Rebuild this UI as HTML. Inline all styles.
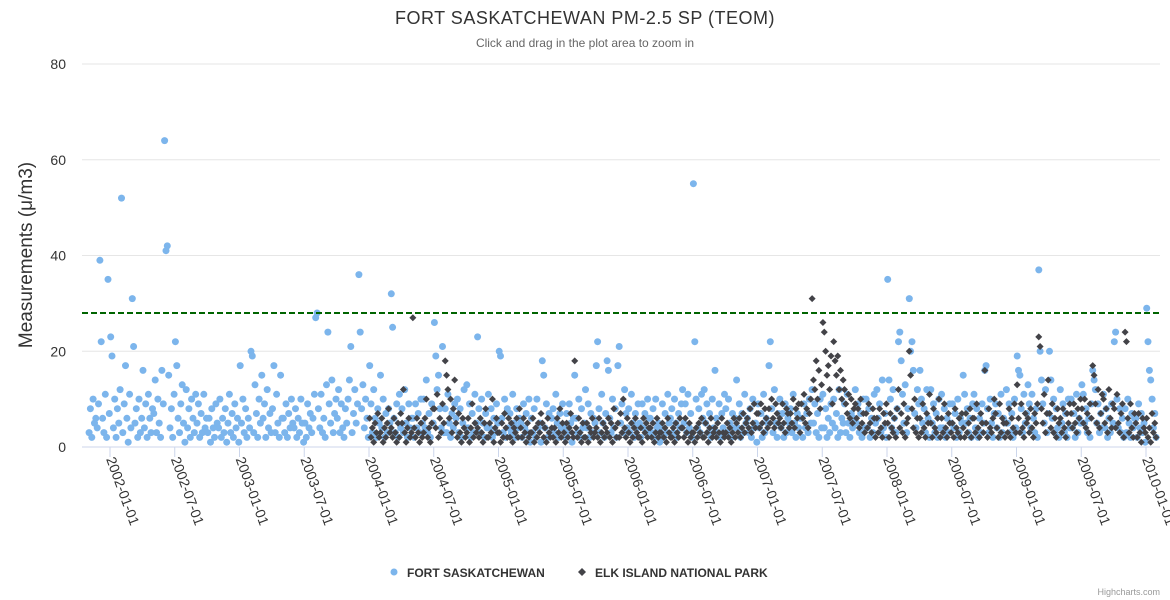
<!DOCTYPE html>
<html><head><meta charset="utf-8"><style>
body{margin:0;background:#fff;font-family:"Liberation Sans","DejaVu Sans",sans-serif}
</style></head><body>
<svg id="chart" width="1170" height="600" xmlns="http://www.w3.org/2000/svg" style="display:block">
<text x="585" y="24" text-anchor="middle" font-size="18" fill="#333" letter-spacing="0.5">FORT SASKATCHEWAN PM-2.5 SP (TEOM)</text>
<text x="585" y="47" text-anchor="middle" font-size="12" fill="#666">Click and drag in the plot area to zoom in</text>
<text transform="translate(32,255) rotate(-90)" text-anchor="middle" font-size="19" fill="#333">Measurements (μ/m3)</text>
<g id="grid"></g><g id="xaxis"></g><g id="fs"></g><g id="ei"></g>
<line id="thr" x1="82" x2="1160" stroke="#006400" stroke-width="2" stroke-dasharray="6,3"/>
<g>
<g><circle cx="394" cy="572" r="3.5" fill="#7cb5ec"/><text x="407" y="577" font-size="12" font-weight="bold" fill="#333">FORT SASKATCHEWAN</text></g>
<g><path d="M582 568L586 572L582 576L578 572Z" fill="#434348"/><text x="595" y="577" font-size="12" font-weight="bold" fill="#333">ELK ISLAND NATIONAL PARK</text></g>
</g>
<text x="1160" y="595" text-anchor="end" font-size="9" fill="#999">Highcharts.com</text>
</svg>
<script>
const yTicks=[0,20,40,60,80];
const xTickLabels=["2002-01-01","2002-07-01","2003-01-01","2003-07-01","2004-01-01","2004-07-01","2005-01-01","2005-07-01","2006-01-01","2006-07-01","2007-01-01","2007-07-01","2008-01-01","2008-07-01","2009-01-01","2009-07-01","2010-01-01"];
const threshold=28;
const fsStartYear=2001, fsStartMonth=10;
const fsValues=[
[3,8,2,10,5,6,4,9],[39,22,6,3,11,2,35,7],[23,19,4,10,2,8,5,12],[52,3,9,17,6,1,11,4],[31,21,5,8,2,10,3,6],[16,4,9,2,11,6,3,8],[7,14,3,10,5,2,16,9],[64,41,42,15,4,8,2,11],[22,17,6,3,9,13,5,1],[12,4,8,2,10,6,3,11],[5,9,2,7,3,11,4,6],[3,6,1,8,4,2,9,5],[4,10,2,6,3,8,1,5],[11,3,7,2,9,4,6,1],[17,5,10,3,8,2,6,4],
[20,19,3,13,7,2,10,5],[15,6,9,2,12,4,7,3],[8,17,3,11,5,2,15,6],[6,3,9,2,7,4,10,5],[4,8,2,6,3,10,5,1],[5,2,9,4,7,3,6,11],[27,28,8,4,11,3,6,2],[13,24,9,5,14,3,7,10],[6,12,3,9,4,2,8,5],[10,14,21,3,7,12,5,9],[36,24,8,13,4,10,6,2],[17,9,3,12,6,2,8,5],
[15,4,10,2,7,3,8,5],[32,25,6,3,9,2,11,4],[8,3,12,5,2,9,4,6],[6,2,9,4,7,3,10,5],[10,4,14,3,7,2,9,5],[26,19,12,15,8,4,21,3],[8,3,11,5,2,7,4,9],[6,10,3,8,2,5,12,4],[13,4,9,2,7,3,11,5],[23,8,3,10,5,2,7,4],[11,4,8,2,6,3,9,5],[20,19,6,3,10,2,8,4],
[7,3,11,5,2,8,4,6],[5,2,9,4,7,3,10,1],[6,3,8,2,10,4,5,1],[18,15,4,9,2,7,3,6],[8,3,11,5,2,7,4,9],[4,2,7,3,9,5,1,6],[15,6,3,10,2,8,4,5],[12,4,9,2,7,3,6,5],[17,22,8,3,11,5,2,7],[18,16,6,3,10,4,8,2],[17,21,5,9,3,12,7,4],[8,3,11,5,2,7,4,9],
[5,2,9,4,7,3,10,6],[6,3,8,2,10,4,5,1],[4,9,2,7,3,11,5,6],[8,3,10,5,2,7,4,9],[12,5,9,3,11,4,7,2],[55,22,10,4,8,3,11,6],[12,5,9,3,7,2,10,4],[16,6,3,9,2,7,4,11],[8,3,10,5,2,7,4,6],[14,4,9,2,7,3,11,5],[6,3,8,2,10,4,5,1],[9,4,7,2,11,3,6,5],
[17,22,8,3,12,5,2,7],[10,4,7,2,9,3,6,5],[8,3,11,5,2,7,4,6],[6,2,9,4,7,3,10,5],[12,5,9,3,7,2,10,4],[11,4,8,2,6,3,9,5],[10,4,7,2,12,3,6,5],[9,3,11,5,2,7,4,6],[12,5,9,3,7,2,10,4],[10,4,8,2,6,3,11,5],[12,6,9,3,14,4,7,2],[35,14,10,4,12,6,3,8],
[22,24,18,11,5,13,3,8],[31,20,22,16,7,4,12,9],[16,10,5,8,3,12,6,2],[12,5,9,3,7,2,10,4],[11,4,8,2,6,3,9,5],[9,4,7,2,10,3,6,5],[15,11,5,8,3,6,2,9],[11,4,8,2,6,3,9,5],[16,17,8,3,10,5,2,7],[9,4,7,2,11,3,6,5],[12,5,9,3,7,2,10,4],[19,16,15,8,3,11,5,7],
[13,9,4,11,6,3,8,2],[37,20,14,9,5,12,3,7],[20,14,6,10,3,8,4,2],[12,5,9,3,7,2,10,4],[10,4,7,2,11,3,6,5],[13,11,5,8,3,6,2,9],[16,14,12,5,9,3,7,4],[11,4,8,2,6,3,9,5],[22,24,10,4,8,3,6,2],[8,3,10,5,2,7,4,6],[6,2,9,4,7,3,5,1],[29,22,16,14,10,4,7,2]];
const eiStartYear=2003, eiStartMonth=12;
const eiValues=[
[6,2,4,1,5,3,7,2],
[3,6,1,4,2,5,8,3],[4,2,6,3,1,5,2,7],[5,12,3,1,4,6,2,3],[27,4,2,6,3,1,5,2],[3,6,10,2,4,1,5,8],[8,4,11,2,6,3,9,5],[18,15,12,6,10,3,8,14],[5,2,7,3,1,6,4,2],[3,6,1,4,9,2,5,3],[4,2,6,3,1,5,8,2],[2,5,3,10,1,4,6,3],[3,1,5,2,7,4,2,6],
[2,5,1,4,3,6,2,8],[4,2,6,3,1,5,2,3],[3,6,1,4,2,5,3,7],[5,2,4,1,6,3,2,4],[2,4,1,6,3,8,2,5],[3,1,5,2,4,7,3,2],[18,4,2,6,3,1,5,2],[2,5,1,4,3,6,2,3],[4,2,6,1,3,5,2,4],[3,6,2,5,1,8,4,2],[5,2,7,3,10,4,2,6],[3,1,5,2,4,6,3,2],
[2,4,1,6,3,5,2,4],[4,2,5,1,3,6,2,3],[3,5,2,4,1,6,3,2],[2,4,1,5,3,2,6,4],[4,2,6,3,1,5,2,3],[3,1,4,2,5,3,6,2],[2,5,3,1,4,6,2,3],[4,2,5,3,1,6,3,2],[3,5,2,4,1,3,6,2],[5,3,6,2,4,7,3,5],[6,4,8,3,5,9,4,7],[7,4,9,5,3,8,6,4],
[8,5,10,6,4,9,7,5],[6,4,9,5,3,8,7,4],[7,5,10,4,8,6,9,3],[9,6,11,5,8,4,7,10],[31,14,12,18,10,16,8,13],[26,24,20,15,17,12,19,9],[22,18,15,19,12,16,10,14],[12,9,7,11,6,10,5,8],[9,6,8,4,10,5,7,3],[7,4,9,5,3,8,6,2],[6,3,8,4,2,7,5,9],[5,2,7,4,3,6,2,8],
[12,4,7,3,9,2,5,6],[20,15,8,4,10,3,6,2],[6,3,9,4,2,7,5,11],[5,2,8,4,3,6,10,2],[6,3,9,4,2,7,5,3],[5,2,8,4,3,6,2,7],[4,2,7,3,5,8,2,6],[6,3,9,4,2,7,5,3],[16,5,2,8,4,3,6,10],[7,4,2,9,3,6,5,2],[5,3,8,2,6,4,9,3],[13,6,3,9,4,2,7,5],
[6,3,8,4,2,7,5,9],[23,21,8,5,11,3,7,14],[7,4,9,3,6,2,8,5],[6,3,8,4,2,7,5,9],[7,4,9,5,3,8,6,10],[8,5,10,4,7,3,9,6],[17,15,9,5,12,4,7,11],[10,5,8,3,12,6,4,9],[8,4,11,5,3,7,9,2],[24,22,6,3,9,4,2,7],[5,2,7,3,1,6,4,3],[6,2,4,1,7,3,5,2]];

const NS="http://www.w3.org/2000/svg";
const X0=110, PXY=129.5, Y0=447, PXU=383/80, L=82, R=1160;
const xs=t=>X0+(t-2002)*PXY;
const ys=v=>Y0-v*PXU;
function mk(tag,attrs,parent){const e=document.createElementNS(NS,tag);for(const k in attrs)e.setAttribute(k,attrs[k]);parent.appendChild(e);return e;}
const grid=document.getElementById('grid');
yTicks.forEach(v=>{
  const ln=mk('line',{x1:L,x2:R,y1:ys(v),y2:ys(v),stroke:v===0?'#ccd6eb':'#e6e6e6','stroke-width':1},grid);
  
  
  const t=mk('text',{x:66,y:ys(v)+5,'text-anchor':'end','font-size':14,fill:'#333'},grid);
  t.textContent=v;
  
  
});
const xa=document.getElementById('xaxis');
xTickLabels.forEach(s=>{
  const p=s.split('-');const t=+p[0]+(+p[1]-1)/12;const x=xs(t);
  const tk=mk('line',{x1:x,x2:x,y1:Y0,y2:Y0+10,stroke:'#ccd6eb'},xa);
  
  
  const tx=mk('text',{transform:`translate(${x-4},${Y0+12}) rotate(70)`,'font-size':14,fill:'#333'},xa);
  tx.textContent=s;
  
  
});
const thr=document.getElementById('thr');thr.setAttribute('y1',ys(threshold));thr.setAttribute('y2',ys(threshold));
function plot(vals,sy,sm,gid,shape){
  const g=document.getElementById(gid);
  vals.forEach((arr,m)=>{
    const tm=sy+(sm+m)/12;
    arr.forEach((v,i)=>{
      const x=xs(tm+(i+0.5)/arr.length/12), y=ys(v);
      let e;
      if(shape==='circle'){e=mk('circle',{cx:x.toFixed(1),cy:y.toFixed(1),r:3.5,fill:'#7cb5ec'},g);}
      else{e=mk('path',{d:`M${x} ${y-3.5}L${x+3.5} ${y}L${x} ${y+3.5}L${x-3.5} ${y}Z`,fill:'#434348'},g);}
      
      
    });
  });
}
plot(fsValues,fsStartYear,fsStartMonth,'fs','circle');
plot(eiValues,eiStartYear,eiStartMonth,'ei','diamond');
</script>
</body></html>
